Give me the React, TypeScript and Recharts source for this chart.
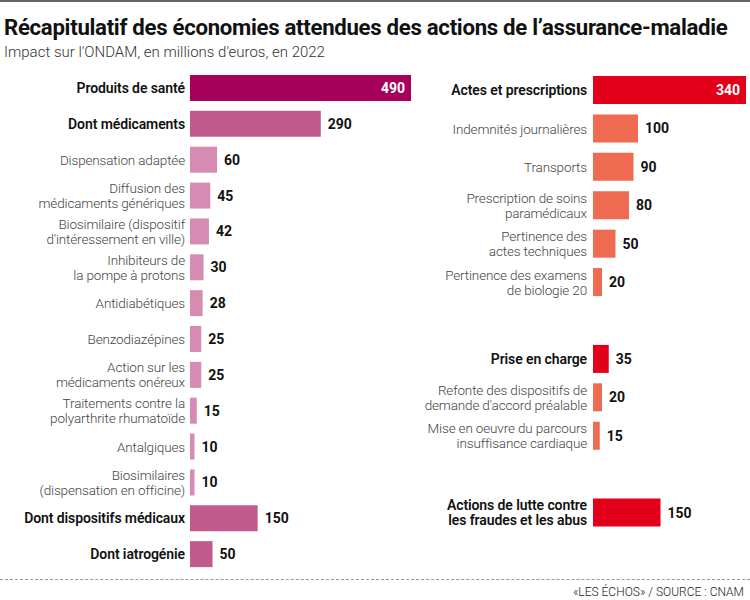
import { BarChart, Bar, XAxis, YAxis, Cell, LabelList } from "recharts"

// left block: produits de santé
const leftNames = [
  "Produits de santé",
  "Dont médicaments",
  "Dispensation adaptée",
  "Diffusion des\nmédicaments génériques",
  "Biosimilaire (dispositif\nd'intéressement en ville)",
  "Inhibiteurs de\nla pompe à protons",
  "Antidiabétiques",
  "Benzodiazépines",
  "Action sur les\nmédicaments onéreux",
  "Traitements contre la\npolyarthrite rhumatoïde",
  "Antalgiques",
  "Biosimilaires\n(dispensation en officine)",
  "Dont dispositifs médicaux",
  "Dont iatrogénie",
]
const leftValues = [490, 290, 60, 45, 42, 30, 28, 25, 25, 15, 10, 10, 150, 50]
const leftLevels = ["total", "group", "item", "item", "item", "item", "item", "item", "item", "item", "item", "item", "group", "group"]

// right block: actes, prise en charge, fraudes (empty slots = spacing between groups)
const rightNames = [
  "Actes et prescriptions",
  "Indemnités journalières",
  "Transports",
  "Prescription de soins\nparamédicaux",
  "Pertinence des\nactes techniques",
  "Pertinence des examens\nde biologie 20",
  "",
  "Prise en charge",
  "Refonte des dispositifs de\ndemande d'accord préalable",
  "Mise en oeuvre du parcours\ninsuffisance cardiaque",
  " ",
  "Actions de lutte contre\nles fraudes et les abus",
]
const rightValues = [340, 100, 90, 80, 50, 20, null, 35, 20, 15, null, 150]
const rightLevels = ["total", "item", "item", "item", "item", "item", "none", "group", "item", "item", "none", "group"]

const leftColors: any = { total: "#a5005a", group: "#c05b8c", item: "#d68cb2" }
const rightColors: any = { total: "#e2001a", group: "#e2001a", item: "#ee6a50" }

const FONT = "Roboto, 'Noto Sans', sans-serif"

const makeTick = (names: string[], levels: string[]) => (props: any) => {
  const { x, y, payload } = props
  const i = names.indexOf(payload.value)
  const lvl = levels[i]
  if (lvl === "none") return null
  const lines = String(payload.value).split("\n")
  const bold = lvl === "total" || lvl === "group"
  const lh = 15
  const y0 = y - ((lines.length - 1) * lh) / 2 + 5
  return (
    <text
      x={x}
      y={y0}
      textAnchor="end"
      fontFamily={FONT}
      fontSize={bold ? 14 : 13.5}
      letterSpacing={bold ? -0.1 : -0.15}
      fontWeight={bold ? 600 : 300}
      fill={bold ? "#111" : "#444"}
    >
      {lines.map((l, k) => (
        <tspan key={k} x={x} y={y0 + k * lh}>
          {l}
        </tspan>
      ))}
    </text>
  )
}

const makeLabel = (levels: string[]) => (props: any) => {
  const { x, y, width, height, value, index } = props
  if (value == null) return null
  const inside = levels[index] === "total"
  return (
    <text
      x={inside ? x + width - 6 : x + width + 7}
      y={y + height / 2 + 5}
      textAnchor={inside ? "end" : "start"}
      fontFamily={FONT}
      fontSize={14}
      fontWeight={700}
      fill={inside ? "#fff" : "#111"}
    >
      {value}
    </text>
  )
}

export default function App() {
  const leftData = leftNames.map((name, i) => ({ name, value: leftValues[i] }))
  const rightData = rightNames.map((name, i) => ({ name, value: rightValues[i] }))

  return (
    <div
      style={{
        position: "absolute",
        left: 0,
        top: 0,
        width: 750,
        height: 600,
        background: "#fff",
        borderTop: "2px solid #666",
        boxSizing: "border-box",
        fontFamily: FONT,
        overflow: "hidden",
      }}
    >
      <div style={{ position: "absolute", left: 4, top: 12, fontSize: 22.2, fontWeight: 700, color: "#111", letterSpacing: -0.3, whiteSpace: "nowrap" }}>
        Récapitulatif des économies attendues des actions de l’assurance-maladie
      </div>
      <div style={{ position: "absolute", left: 4, top: 41, fontSize: 15, fontWeight: 300, color: "#333", whiteSpace: "nowrap" }}>
        Impact sur l'ONDAM, en millions d'euros, en 2022
      </div>

      <div style={{ position: "absolute", left: 0, top: -2 }}>
        <BarChart
          width={420}
          height={600}
          data={leftData}
          layout="vertical"
          margin={{ top: 70, right: 9, bottom: 28, left: 0 }}
        >
          <XAxis type="number" hide domain={[0, 490]} />
          <YAxis
            type="category"
            dataKey="name"
            width={190}
            axisLine={false}
            tickLine={false}
            tickSize={0}
            tickMargin={5}
            interval={0}
            tick={makeTick(leftNames, leftLevels)}
          />
          <Bar dataKey="value" barSize={26} isAnimationActive={false}>
            {leftData.map((d, i) => (
              <Cell key={i} fill={leftColors[leftLevels[i]]} />
            ))}
            <LabelList dataKey="value" content={makeLabel(leftLevels)} />
          </Bar>
        </BarChart>
      </div>

      <div style={{ position: "absolute", left: 380, top: -2 }}>
        <BarChart
          width={370}
          height={600}
          data={rightData}
          layout="vertical"
          margin={{ top: 71, right: 4, bottom: 68, left: 0 }}
        >
          <XAxis type="number" hide domain={[0, 340]} />
          <YAxis
            type="category"
            dataKey="name"
            width={213}
            axisLine={false}
            tickLine={false}
            tickSize={0}
            tickMargin={6}
            interval={0}
            tick={makeTick(rightNames, rightLevels)}
          />
          <Bar dataKey="value" barSize={28} isAnimationActive={false}>
            {rightData.map((d, i) => (
              <Cell key={i} fill={rightColors[rightLevels[i]] || "transparent"} />
            ))}
            <LabelList dataKey="value" content={makeLabel(rightLevels)} />
          </Bar>
        </BarChart>
      </div>

      <div style={{ position: "absolute", left: 0, right: 0, top: 577, borderTop: "1px dashed #999" }} />
      <div style={{ position: "absolute", right: 6, top: 583, fontSize: 12, fontWeight: 300, color: "#222", whiteSpace: "nowrap" }}>
        «LES ÉCHOS» / SOURCE : CNAM
      </div>
    </div>
  )
}
